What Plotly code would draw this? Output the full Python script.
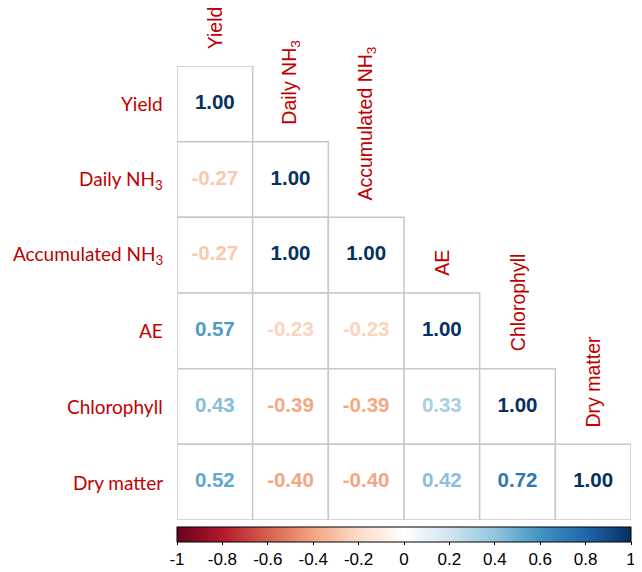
import plotly.graph_objects as go
from plotly.colors import sample_colorscale

# ---- data ----
labels = ["Yield", "Daily NH<sub>3</sub>", "Accumulated NH<sub>3</sub>", "AE", "Chlorophyll", "Dry matter"]
row_yield = [1.00]
row_daily = [-0.27, 1.00]
row_accum = [-0.27, 1.00, 1.00]
row_ae = [0.57, -0.23, -0.23, 1.00]
row_chloro = [0.43, -0.39, -0.39, 0.33, 1.00]
row_dry = [0.52, -0.40, -0.40, 0.42, 0.72, 1.00]
rows = [row_yield, row_daily, row_accum, row_ae, row_chloro, row_dry]
cbar_ticks = [-1, -0.8, -0.6, -0.4, -0.2, 0, 0.2, 0.4, 0.6, 0.8, 1]
cbar_ticktext = ["-1", "-0.8", "-0.6", "-0.4", "-0.2", "0", "0.2", "0.4", "0.6", "0.8", "1"]

# corrplot RdBu palette
pal = ["#67001F", "#B2182B", "#D6604D", "#F4A582", "#FDDBC7", "#FFFFFF",
       "#D1E5F0", "#92C5DE", "#4393C3", "#2166AC", "#053061"]
cscale = [[i / (len(pal) - 1), c] for i, c in enumerate(pal)]

RED = "#C00000"
GRID = "#C8C8C8"

xs, ys, vals = [], [], []
for i, r in enumerate(rows):
    for j, v in enumerate(r):
        xs.append(j)
        ys.append(i)
        vals.append(v)

colors = sample_colorscale(cscale, [(v + 1) / 2 for v in vals])

fig = go.Figure()

# cell borders
for i, r in enumerate(rows):
    for j, _ in enumerate(r):
        fig.add_shape(type="rect", x0=j - 0.5, x1=j + 0.5, y0=i - 0.5, y1=i + 0.5,
                      line=dict(color=GRID, width=1.5), fillcolor="white", layer="below")

fig.add_trace(go.Scatter(
    x=xs, y=ys, mode="text",
    text=[f"{v:.2f}" for v in vals],
    textfont=dict(family="Liberation Sans, Arial, sans-serif", size=20.5, color=colors, weight="bold"),
    textposition="middle center",
    hoverinfo="skip", showlegend=False,
))

# colorbar carrier
fig.add_trace(go.Scatter(
    x=xs, y=ys, mode="markers",
    marker=dict(color=vals, colorscale=cscale, cmin=-1, cmax=1, size=1, opacity=0,
                showscale=True,
                colorbar=dict(orientation="h", x=0, xanchor="left", y=-0.016, yanchor="top",
                              len=454, lenmode="pixels", thickness=15, thicknessmode="pixels",
                              xpad=0, ypad=0, outlinecolor="black", outlinewidth=1,
                              tickvals=cbar_ticks, ticktext=cbar_ticktext,
                              ticks="outside", ticklen=3, tickcolor="black",
                              tickfont=dict(family="Liberation Sans, Arial, sans-serif", size=17, color="black"))),
    hoverinfo="skip", showlegend=False,
))

# row labels
for i, lab in enumerate(labels):
    fig.add_annotation(x=-0.5, y=i, xref="x", yref="y", text=lab, showarrow=False,
                       xanchor="right", yanchor="middle", xshift=-12,
                       font=dict(family="Lato, Carlito, sans-serif", size=19, color=RED))
# column labels
for j, lab in enumerate(labels):
    fig.add_annotation(x=j, y=j - 0.5, xref="x", yref="y", text=lab, showarrow=False,
                       textangle=-90, xanchor="center", yanchor="bottom", yshift=15,
                       font=dict(family="Liberation Sans, Arial, sans-serif", size=19.5, color=RED))

fig.update_xaxes(range=[-0.5, 5.5], visible=False, fixedrange=True)
fig.update_yaxes(range=[5.5, -0.5], visible=False, fixedrange=True)
# page body adds an 8px offset, so the figure is 8px smaller on each axis
fig.update_layout(width=634, height=564, margin=dict(l=169, r=11, t=58, b=52, autoexpand=False),
                  plot_bgcolor="white", paper_bgcolor="white")

fig.write_html("out.html")
